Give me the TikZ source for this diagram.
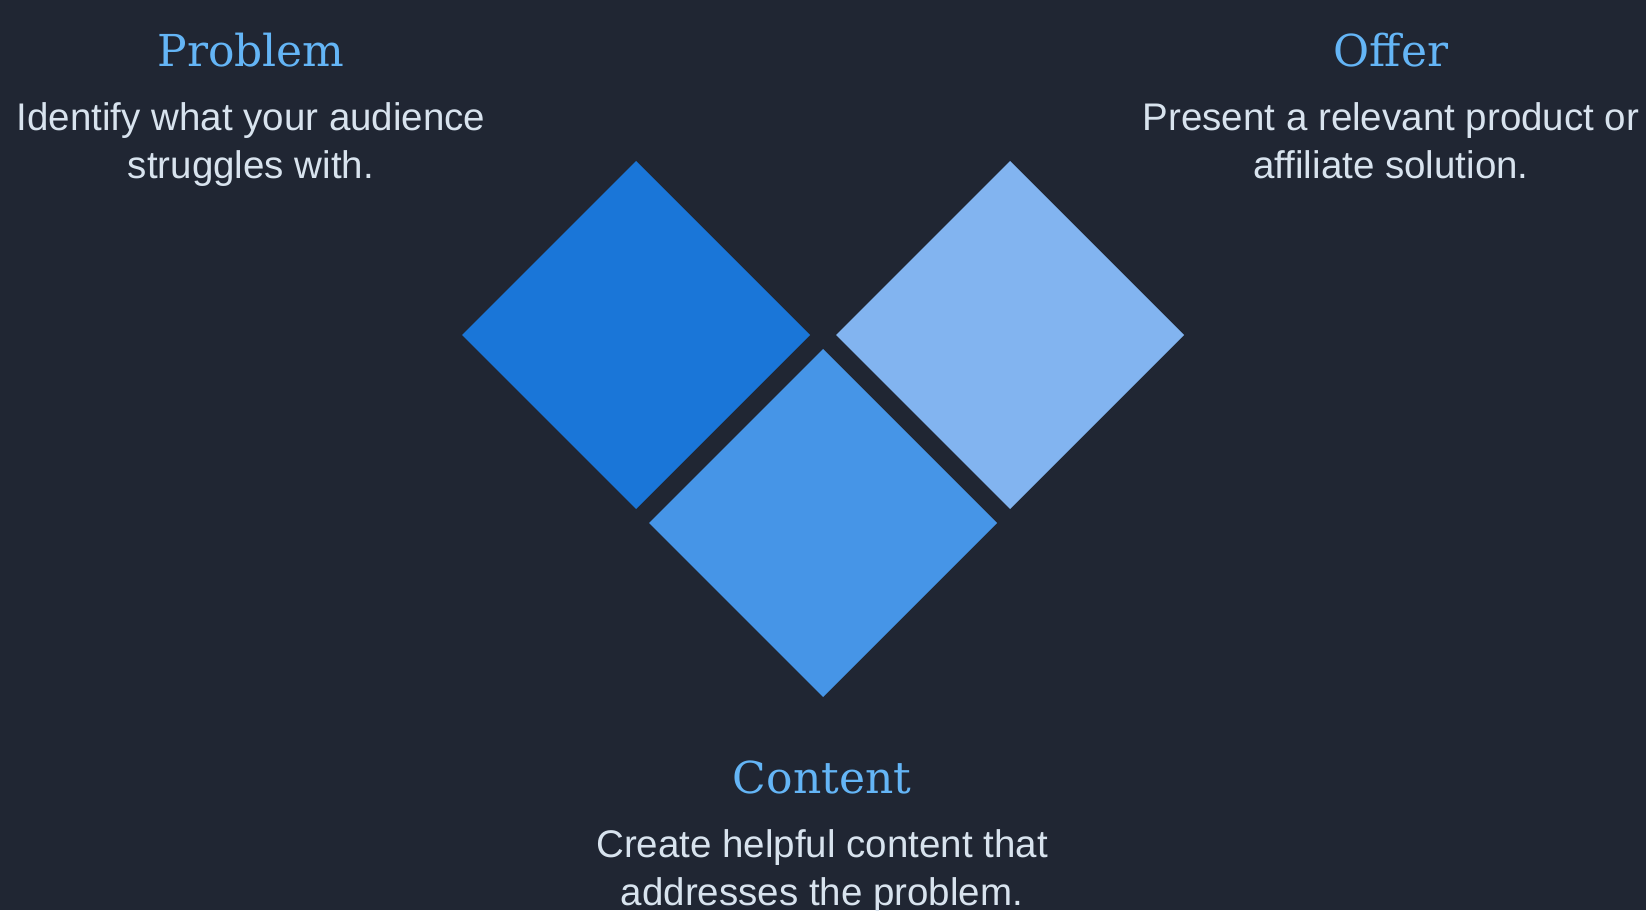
\documentclass[tikz,border=0pt]{standalone}
\usepackage{fontspec}
\usetikzlibrary{positioning}
\usetikzlibrary{shapes.geometric}
\usepackage{xcolor}

\newfontfamily\headfont{DejaVu Serif}
\newfontfamily\bodyfont{Liberation Sans}

\definecolor{backdrop}{HTML}{202633}
\definecolor{headblue}{HTML}{64B5F6}
\definecolor{bodygrey}{HTML}{D8E3EE}
\definecolor{tiledark}{HTML}{1A76D8}
\definecolor{tilemid}{HTML}{4695E7}
\definecolor{tilelight}{HTML}{82B4F0}

\begin{document}
\begin{tikzpicture}[x=1pt,y=-1pt,
	tile/.style={diamond,minimum width=348pt,minimum height=348pt,inner sep=0pt,outer sep=0pt},
	head/.style={text=headblue,font=\headfont\fontsize{44}{53}\selectfont,anchor=base,inner sep=0pt},
	desc/.style={text=bodygrey,font=\bodyfont\fontsize{38.5}{48}\selectfont,align=center,inner sep=0pt}]
	\fill[backdrop] (0,0) rectangle (1646,910);
	\useasboundingbox (0,0) rectangle (1646,910);
	
	% Tiles
	\node[tile,fill=tiledark] (problem tile) at (636,335) {};
	\node[tile,fill=tilelight] (offer tile) at (1010,335) {};
	\node[tile,fill=tilemid] (content tile) at (823,523) {};
	
	% Problem
	\node[head] (problem) at (251,66.7) {Problem};
	\node[desc,below=112pt of problem.base,anchor=base] (problem text) {Identify what your audience\\struggles with.};
	
	% Offer
	\node[head] (offer) at (1391,66.7) {Offer};
	\node[desc,below=112pt of offer.base,anchor=base] (offer text) {Present a relevant product or\\affiliate solution.};
	
	% Content
	\node[head] (content) at (822,793) {Content};
	\node[desc,below=112pt of content.base,anchor=base] (content text) {Create helpful content that\\addresses the problem.};
\end{tikzpicture}
\end{document}
